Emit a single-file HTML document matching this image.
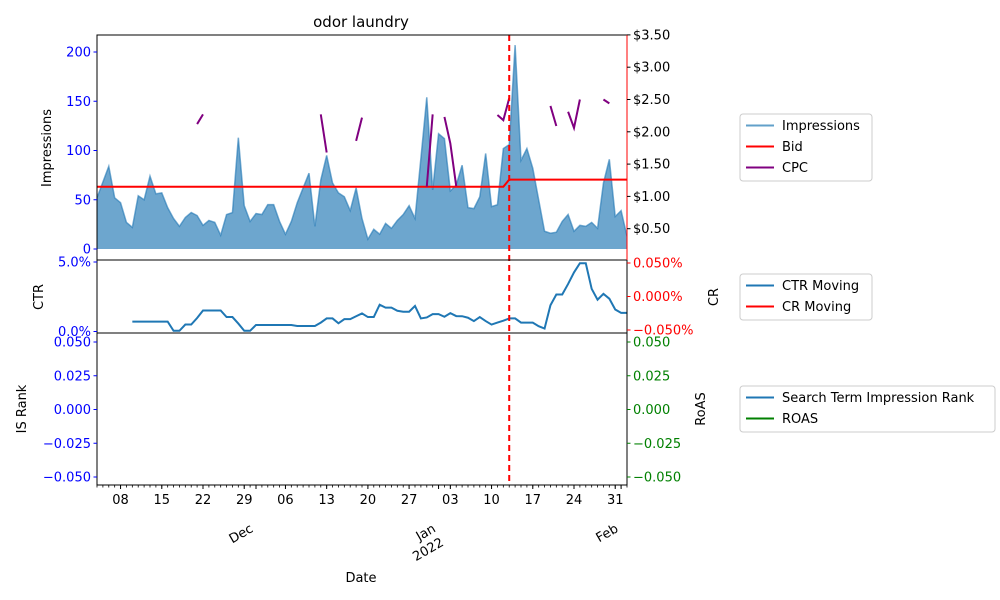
<!DOCTYPE html>
<html><head><meta charset="utf-8"><style>
html,body{margin:0;padding:0;background:#fff}
svg{display:block;font-family:"DejaVu Sans","Liberation Sans",sans-serif}
</style></head><body>
<svg id="chart" width="1000" height="600" viewBox="0 0 1000 600">
<text x="361" y="27" font-size="15" text-anchor="middle">odor laundry</text>
<g id="g"></g>
</svg>
<script>
const impressions=[52,68,84,52,47,27,22,54,50,74,56,57,42,31,23,32,37,34,24,29,27,14,35,37,113,44,28,36,35,45,45,28,15,28,47,62,77,23,70,95,67,57,53,39,62,31,10,20,15,26,21,29,35,44,31,92,154,60,117,112,59,65,85,42,41,53,97,43,45,102,106,207,90,102,82,50,18,16,17,28,35,18,24,23,27,21,67,91,33,39,13];
const cpc=[null,null,null,null,null,null,null,null,null,null,null,null,null,null,null,null,null,2.12,2.27,null,null,null,null,null,null,null,null,null,null,null,null,null,null,null,null,null,null,null,2.27,1.68,null,null,null,null,1.86,2.22,null,null,null,null,null,null,null,null,null,null,1.15,2.27,null,2.23,1.82,1.16,null,null,null,null,null,null,2.26,2.18,2.52,null,null,null,null,null,null,2.40,2.09,null,2.31,2.06,2.50,null,null,null,2.50,2.44,null,null,null];
const bidBefore=1.15, bidAfter=1.26, bidChangeDay=70;
const ctr=[null,null,null,null,null,null,0.71,0.71,0.71,0.71,0.71,0.71,0.71,0.05,0.05,0.5,0.5,0.97,1.51,1.51,1.51,1.51,1.04,1.04,0.57,0.05,0.05,0.47,0.47,0.47,0.47,0.47,0.47,0.47,0.4,0.4,0.4,0.4,0.64,0.94,0.94,0.59,0.89,0.89,1.1,1.3,1.04,1.04,1.93,1.72,1.72,1.49,1.42,1.42,1.84,0.94,1.01,1.25,1.25,1.06,1.32,1.11,1.1,0.99,0.75,1.04,0.75,0.5,0.64,0.78,0.94,0.94,0.64,0.64,0.64,0.38,0.21,1.89,2.66,2.66,3.42,4.25,4.91,4.91,3.07,2.29,2.71,2.36,1.58,1.34,1.34];
const weekTickDays=[4,11,18,25,32,39,46,53,60,67,74,81,88];
const weekTickLabels=["08","15","22","29","06","13","20","27","03","10","17","24","31"];
const monthTickDays=[27,58,89];
const monthTickLabels=[["Dec"],["Jan","2022"],["Feb"]];
const impTicks=[0,50,100,150,200];
const cpcTicks=[0.5,1,1.5,2,2.5,3,3.5];
const ctrTicks=[0,5];
const crTicks=[-0.05,0,0.05];
const rankTicks=[-0.05,-0.025,0,0.025,0.05];

const L=97,R=627;
const x=d=>L+(R-L)*d/90;
const yImp=v=>249-v*0.985;
const yCpc=v=>261-v*64.6;
const yCtr=v=>331.5-v*13.9;
const yCr=v=>296.5-v*670;
const yRank=v=>409.5-v*1350;
const NS="http://www.w3.org/2000/svg";
const g=document.getElementById('g');
function mk(tag,attrs,parent){const e=document.createElementNS(NS,tag);for(const k in attrs)e.setAttribute(k,attrs[k]);(parent||g).appendChild(e);return e;}
function txt(s,attrs){const e=mk('text',attrs);e.textContent=s;return e;}

const defs=mk('defs',{});const cp=mk('clipPath',{id:'cp'},defs);mk('rect',{x:L,y:35,width:R-L,height:225},cp);

let d='M'+x(0)+','+yImp(0);
impressions.forEach((v,i)=>{d+=' L'+x(i)+','+yImp(v);});
d+=' L'+x(90)+','+yImp(0)+' Z';
let e=mk('path',{d:d,fill:'#1f77b4','fill-opacity':0.65,stroke:'none','clip-path':'url(#cp)'});


let ld=impressions.map((v,i)=>(i?'L':'M')+x(i)+','+yImp(v)).join(' ');
e=mk('path',{d:ld,fill:'none',stroke:'#1f77b4','stroke-opacity':0.6,'stroke-width':1.5,'clip-path':'url(#cp)'});



e=mk('polyline',{points:`${x(0)},${yCpc(bidBefore)} ${x(bidChangeDay-1)},${yCpc(bidBefore)} ${x(bidChangeDay)},${yCpc(bidAfter)} ${x(90)},${yCpc(bidAfter)}`,fill:'none',stroke:'#ff0000','stroke-width':2});



let seg='';
cpc.forEach((v,i)=>{if(v==null)return;seg+=((i>0&&cpc[i-1]!=null)?' L':' M')+x(i)+','+yCpc(v);});
e=mk('path',{d:seg,fill:'none',stroke:'#800080','stroke-width':2});



let cd='';
ctr.forEach((v,i)=>{if(v==null)return;cd+=((i>0&&ctr[i-1]!=null)?' L':' M')+x(i)+','+yCtr(v);});
e=mk('path',{d:cd,fill:'none',stroke:'#1f77b4','stroke-width':2});



e=mk('line',{x1:x(bidChangeDay),x2:x(bidChangeDay),y1:35,y2:485,stroke:'#ff0000','stroke-width':2,'stroke-dasharray':'6,4'});



[[35,260],[260,333],[333,485]].forEach((p,i)=>{
  const r=mk('rect',{x:L,y:p[0],width:R-L,height:p[1]-p[0],fill:'none',stroke:'#000','stroke-width':1});
  
  
});
mk('line',{x1:R,x2:R,y1:35,y2:260,stroke:'#ff0000','stroke-width':1});

function yAxis(ticks,fy,side,color,fmt,name){
  ticks.forEach(t=>{
    const yy=fy(t);
    if(side==='l'){mk('line',{x1:L-3.5,x2:L,y1:yy,y2:yy,stroke:color});
      const tt=txt(fmt(t),{x:L-6,y:yy+4.5,'font-size':13,'text-anchor':'end',fill:color});
      }
    else{mk('line',{x1:R,x2:R+3.5,y1:yy,y2:yy,stroke:color});
      const tt=txt(fmt(t),{x:R+6,y:yy+4.5,'font-size':13,'text-anchor':'start',fill:color});
      }
  });
}
const minus=s=>s.replace('-','\u2212');
yAxis(impTicks,yImp,'l','#0000ff',t=>String(t),'impressions');
yAxis(cpcTicks,yCpc,'r','#000',t=>'$'+t.toFixed(2),'cpc');
yAxis(ctrTicks,yCtr,'l','#0000ff',t=>t.toFixed(1)+'%','ctr');
yAxis(crTicks,yCr,'r','#ff0000',t=>minus(t.toFixed(3))+'%','cr');
yAxis(rankTicks,yRank,'l','#0000ff',t=>minus(t.toFixed(3)),'is-rank');
yAxis(rankTicks,yRank,'r','#008000',t=>minus(t.toFixed(3)),'roas');

for(let i=0;i<=90;i++)mk('line',{x1:x(i),x2:x(i),y1:485,y2:487.5,stroke:'#000','stroke-width':0.8});
weekTickDays.forEach((dd,i)=>{
  mk('line',{x1:x(dd),x2:x(dd),y1:485,y2:489,stroke:'#000'});
  const t=txt(weekTickLabels[i],{x:x(dd),y:504,'font-size':13,'text-anchor':'middle'});
  
});
monthTickDays.forEach((dd,i)=>{
  mk('line',{x1:x(dd),x2:x(dd),y1:485,y2:489,stroke:'#000'});
  const t=mk('text',{transform:`translate(${x(dd)-2},${531}) rotate(-30)`,'font-size':13,'text-anchor':'end'});
  monthTickLabels[i].forEach((s,j)=>{const ts=mk('tspan',{x:0,dy:j?16:0},t);ts.textContent=s;});
  
});

function title(s,xx,yy,rot,name){const t=txt(s,{x:xx,y:yy,'font-size':13,'text-anchor':'middle',transform:rot?`rotate(-90 ${xx} ${yy})`:''});}
title('Impressions',51,148,true,'impressions-axis-title');
title('CTR',43,297,true,'ctr-axis-title');
title('IS Rank',26,409,true,'is-rank-axis-title');
title('CR',718,297,true,'cr-axis-title');
title('RoAS',705,409,true,'roas-axis-title');
title('Date',361,582,false,'x-axis-title');

function legend(x0,y0,w,items,name){
  const lg=mk('g',{});
  
  mk('rect',{x:x0,y:y0,width:w,height:items.length*21+4,rx:3,fill:'#fff',stroke:'#ccc'},lg);
  items.forEach((it,i)=>{
    const yy=y0+11.5+i*21;
    mk('line',{x1:x0+6,x2:x0+34,y1:yy,y2:yy,stroke:it[1],'stroke-width':2,'stroke-opacity':it[2]||1},lg);
    const t=mk('text',{x:x0+42,y:yy+4.5,'font-size':13},lg);t.textContent=it[0];
    
  });
}
legend(740,114,132,[['Impressions','#1f77b4',0.7],['Bid','#ff0000'],['CPC','#800080']],'legend-top');
legend(740,274,132,[['CTR Moving','#1f77b4'],['CR Moving','#ff0000']],'legend-middle');
legend(740,386,255,[['Search Term Impression Rank','#1f77b4'],['ROAS','#008000']],'legend-bottom');
</script>
</body></html>
